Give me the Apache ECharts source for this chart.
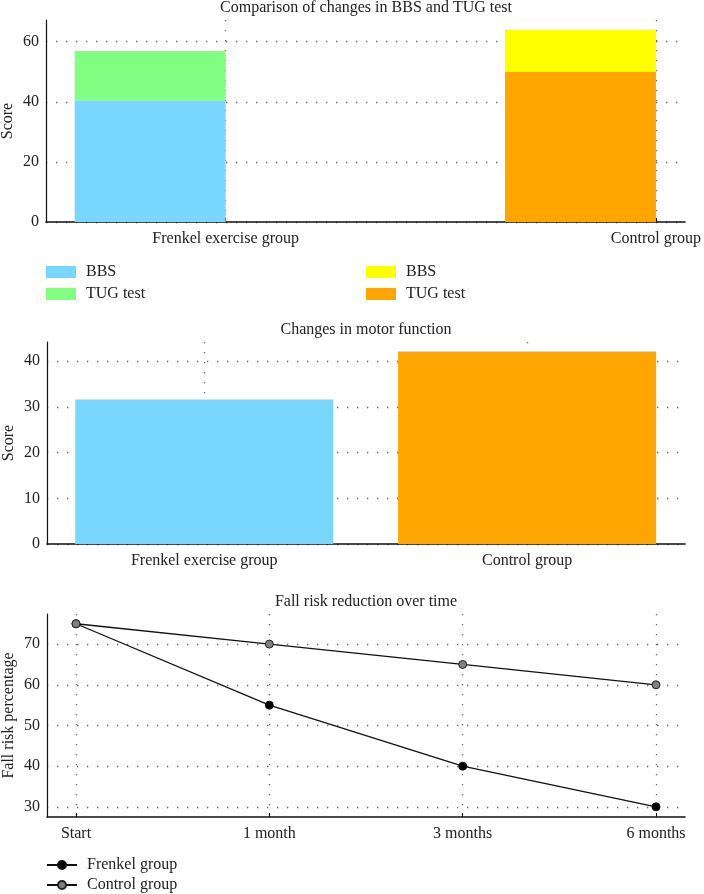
<!DOCTYPE html>
<html>
<head>
<meta charset="utf-8">
<script src="https://cdn.jsdelivr.net/npm/echarts@6/dist/echarts.min.js"></script>
<style>html,body{margin:0;padding:0;background:#fff}#c{width:704px;height:894px}</style>
</head>
<body>
<div id="c"></div>
<script>
// ---- Data ----
const groupCategories = ['Frenkel exercise group', 'Control group'];
const frenkelBBS = [40.5, null];
const frenkelTUG = [16.5, null];
const controlTUG = [null, 50];
const controlBBS = [null, 14];
const stackTicks = [0, 20, 40, 60];

const motorScores = [31.6, 42.1];
const motorTicks = [0, 10, 20, 30, 40];

const timeLabels = ['Start', '1 month', '3 months', '6 months'];
const frenkelRisk = [75, 55, 40, 30];
const controlRisk = [75, 70, 65, 60];
const riskTicks = [30, 40, 50, 60, 70];

const colors = { bbsF: '#78d6ff', tugF: '#82ff82', bbsC: '#ffff00', tugC: '#ffa500' };

// ---- Helpers ----
const FONT = 'Liberation Serif';
const TXT = '#222';
const gridLine = { show: true, lineStyle: { color: '#666', width: 1.3, type: [1.3, 8.7] } };
const toXY = arr => arr.map((v, i) => [i, v]);
// value first so that stacking happens on the value dimension
const toYX = arr => arr.map((v, i) => [v, i]);

function xAxisCfg(gridIndex, min, max, labels) {
  const vals = labels.map((_, i) => i);
  return {
    type: 'value', gridIndex, min, max,
    axisLine: { show: true, onZero: false, lineStyle: { color: '#111', width: 1.6 } },
    axisTick: { show: true, inside: true, length: 4, customValues: vals, lineStyle: { color: '#111' } },
    axisLabel: { customValues: vals, formatter: v => labels[Math.round(v)] || '', color: TXT, fontFamily: FONT, fontSize: 16, margin: 9 },
    splitLine: gridLine
  };
}
function yAxisCfg(gridIndex, min, max, ticks, name) {
  return {
    type: 'value', gridIndex, min, max, name,
    nameLocation: 'middle', nameGap: 30, nameMoveOverlap: false,
    nameTextStyle: { color: TXT, fontFamily: FONT, fontSize: 16 },
    axisLine: { show: true, onZero: false, lineStyle: { color: '#111', width: 1.2 } },
    axisTick: { show: false, customValues: ticks },
    axisLabel: { customValues: ticks, color: TXT, fontFamily: FONT, fontSize: 16, margin: 7 },
    splitLine: gridLine
  };
}

const chart = echarts.init(document.getElementById('c'), null, { renderer: 'canvas' });
const barCommon = { type: 'bar', xAxisIndex: 0, yAxisIndex: 0, barWidth: 151, barGap: '0%', stack: 'g', encode: { x: 1, y: 0 } };
const titleStyle = { fontFamily: FONT, fontSize: 16, fontWeight: 'normal', color: TXT };
const legendText = { fontFamily: FONT, fontSize: 16, color: TXT, padding: [0, 0, 0, 5] };

chart.setOption({
  animation: false,
  backgroundColor: '#fff',
  textStyle: { fontFamily: FONT },
  title: [
    { text: 'Comparison of changes in BBS and TUG test', left: 366, top: 0, padding: 0, textAlign: 'center', textStyle: titleStyle },
    { text: 'Changes in motor function', left: 366, top: 322, padding: 0, textAlign: 'center', textStyle: titleStyle },
    { text: 'Fall risk reduction over time', left: 366, top: 594, padding: 0, textAlign: 'center', textStyle: titleStyle }
  ],
  legend: [
    { data: ['BBS', 'TUG test'], orient: 'vertical', left: 46, top: 264, padding: 0, itemWidth: 30, itemHeight: 12, itemGap: 6, icon: 'rect', textStyle: legendText },
    { data: ['BBS ', 'TUG test '], orient: 'vertical', left: 366, top: 264, padding: 0, itemWidth: 30, itemHeight: 12, itemGap: 6, icon: 'rect', textStyle: legendText },
    { data: ['Frenkel group', 'Control group'], orient: 'vertical', left: 46, top: 857, padding: 0, itemWidth: 30, itemHeight: 10, itemGap: 4, textStyle: legendText }
  ],
  grid: [
    { left: 46, top: 20, width: 639, height: 202, outerBoundsMode: 'none', containLabel: false },
    { left: 47, top: 342, width: 638, height: 202, outerBoundsMode: 'none', containLabel: false },
    { left: 47, top: 614, width: 638, height: 203, outerBoundsMode: 'none', containLabel: false }
  ],
  xAxis: [
    xAxisCfg(0, -0.4175, 1.0675, groupCategories),
    xAxisCfg(1, -0.487, 1.489, groupCategories),
    xAxisCfg(2, -0.15, 3.15, timeLabels)
  ],
  yAxis: [
    yAxisCfg(0, 0, 67.2, stackTicks, 'Score'),
    yAxisCfg(1, 0, 44.2, motorTicks, 'Score'),
    yAxisCfg(2, 27.5, 77.4, riskTicks, 'Fall risk percentage')
  ],
  series: [
    Object.assign({}, barCommon, { name: 'BBS', data: toYX(frenkelBBS), itemStyle: { color: colors.bbsF } }),
    Object.assign({}, barCommon, { name: 'TUG test', data: toYX(frenkelTUG), itemStyle: { color: colors.tugF } }),
    Object.assign({}, barCommon, { name: 'TUG test ', data: toYX(controlTUG), itemStyle: { color: colors.tugC } }),
    Object.assign({}, barCommon, { name: 'BBS ', data: toYX(controlBBS), itemStyle: { color: colors.bbsC } }),
    Object.assign({}, barCommon, { name: '_pad', stack: 'pad', data: [], itemStyle: { color: 'transparent' } }),
    { type: 'bar', name: 'motor', xAxisIndex: 1, yAxisIndex: 1, barWidth: 258,
      data: motorScores.map((v, i) => ({ value: [i, v], itemStyle: { color: i === 0 ? colors.bbsF : colors.tugC } })) },
    { type: 'line', name: 'Frenkel group', xAxisIndex: 2, yAxisIndex: 2, data: toXY(frenkelRisk),
      symbol: 'circle', symbolSize: 8, lineStyle: { color: '#111', width: 1.3 },
      itemStyle: { color: '#000', borderColor: '#111', borderWidth: 1 } },
    { type: 'line', name: 'Control group', xAxisIndex: 2, yAxisIndex: 2, data: toXY(controlRisk),
      symbol: 'circle', symbolSize: 8, lineStyle: { color: '#111', width: 1.3 },
      itemStyle: { color: '#808080', borderColor: '#222', borderWidth: 1 } }
  ]
});
</script>
</body>
</html>
